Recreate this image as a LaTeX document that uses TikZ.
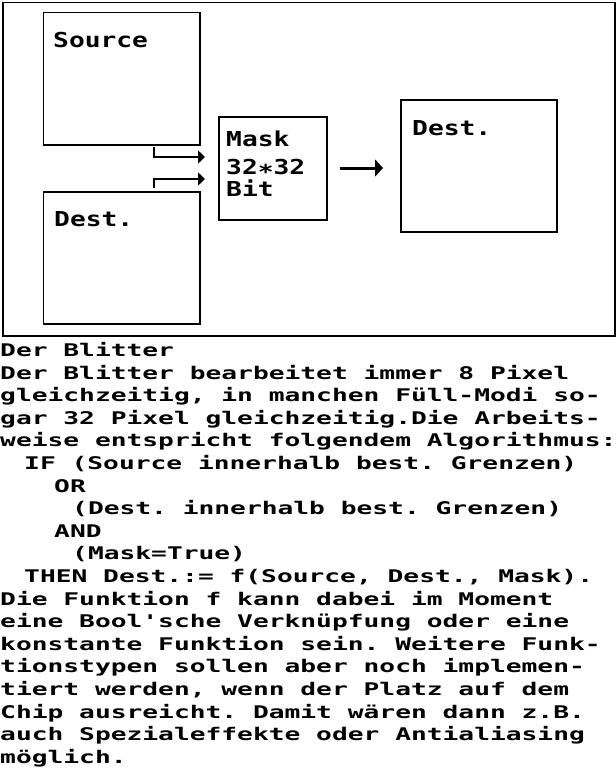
\documentclass[tikz,border=0pt]{standalone}
\usepackage{fontspec}
\usepackage{graphicx}
\usetikzlibrary{arrows.meta}
\newfontfamily\atari{DejaVu Sans Mono}
\newcommand\bodytxt[1]{\scalebox{1}[0.664]{\atari\bfseries\fontsize{26.25pt}{26pt}\selectfont\frenchspacing #1}}
\newcommand\labtxt[1]{\scalebox{1}[0.784]{\atari\bfseries\fontsize{26.25pt}{26pt}\selectfont\frenchspacing #1}}
\begin{document}
\begin{tikzpicture}[x=1pt,y=-1pt,
  box/.style={draw=black,line width=1.6pt,inner sep=0pt,anchor=north west},
  bodyline/.style={anchor=base west,inner sep=0pt},
  lab/.style={anchor=base west,inner sep=0pt},
  conn/.style={draw=black,line width=1.4pt,-{Triangle[length=7pt,width=13pt]}},
  bigconn/.style={draw=black,line width=3pt,-{Triangle[length=8pt,width=17pt]}}]
\useasboundingbox (0,0) rectangle (616,772);
\fill[white] (0,0) rectangle (616,772);
% diagram
\node[box,minimum width=612pt,minimum height=333.5pt] (frame) at (2,1.5) {};
\node[box,minimum width=156.5pt,minimum height=132.3pt] (src) at (42.5,11.7) {};
\node[box,minimum width=156.5pt,minimum height=132pt] (dst) at (42.5,191) {};
\node[box,minimum width=108pt,minimum height=103pt] (mask) at (218,116) {};
\node[box,minimum width=156pt,minimum height=132pt] (res) at (400,99) {};
\node[lab] (srcl) at (53,47.3) {\labtxt{Source}};
\node[lab] (dstl) at (54,226.8) {\labtxt{Dest.}};
\node[lab] (maskl1) at (226,146.5) {\labtxt{Mask}};
\node[lab] (maskl2) at (226,174.5) {\labtxt{32\smash{\raisebox{-0.23em}{*}}32}};
\node[lab] (maskl3) at (226,196.5) {\labtxt{Bit}};
\node[lab] (resl) at (412,135.5) {\labtxt{Dest.}};
% connectors
\coordinate (ua) at (154,147);
\coordinate (ub) at (205,157);
\coordinate (la) at (154,188);
\coordinate (lb) at (205,179);
\coordinate (ba) at (340,168);
\coordinate (bb) at (383,168);
\draw[conn] (ua) |- (ub);
\draw[conn] (la) |- (lb);
\draw[bigconn] (ba) -- (bb);
% text
\node[bodyline] (l1) at (0,356.4) {\bodytxt{Der Blitter}};
\node[bodyline] (l2) at (0,379.0) {\bodytxt{Der Blitter bearbeitet immer 8 Pixel}};
\node[bodyline] (l3) at (0,401.6) {\bodytxt{gleichzeitig, in manchen Füll-Modi so-}};
\node[bodyline] (l4) at (0,424.2) {\bodytxt{gar 32 Pixel gleichzeitig.Die Arbeits-}};
\node[bodyline] (l5) at (0,446.8) {\bodytxt{weise entspricht folgendem Algorithmus:}};
\node[bodyline] (l6) at (24,469.4) {\bodytxt{IF (Source innerhalb best. Grenzen)}};
\node[bodyline] (l7) at (54,492.0) {\bodytxt{OR}};
\node[bodyline] (l8) at (72,514.6) {\bodytxt{(Dest. innerhalb best. Grenzen)}};
\node[bodyline] (l9) at (54,537.2) {\bodytxt{AND}};
\node[bodyline] (l10) at (72,559.8) {\bodytxt{(Mask=True)}};
\node[bodyline] (l11) at (24,582.4) {\bodytxt{THEN Dest.:= f(Source, Dest., Mask).}};
\node[bodyline] (l12) at (0,605.0) {\bodytxt{Die Funktion f kann dabei im Moment}};
\node[bodyline] (l13) at (0,627.6) {\bodytxt{eine Bool's\relax che Verknüpfung oder eine}};
\node[bodyline] (l14) at (0,650.2) {\bodytxt{konstante Funktion sein. Weitere Funk-}};
\node[bodyline] (l15) at (0,672.8) {\bodytxt{tionstypen sollen aber noch implemen-}};
\node[bodyline] (l16) at (0,695.4) {\bodytxt{tiert werden, wenn der Platz auf dem}};
\node[bodyline] (l17) at (0,718.0) {\bodytxt{Chip ausreicht. Damit wären dann z.B.}};
\node[bodyline] (l18) at (0,740.6) {\bodytxt{auch Spezialeffekte oder Antialiasing}};
\node[bodyline] (l19) at (0,763.2) {\bodytxt{möglich.}};
\end{tikzpicture}
\end{document}
